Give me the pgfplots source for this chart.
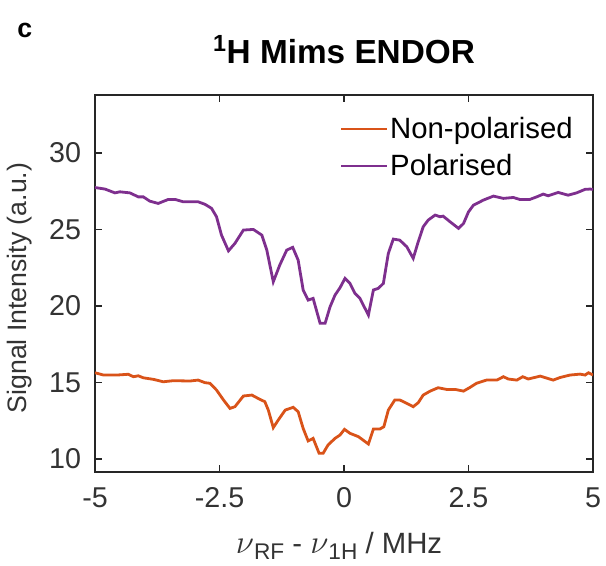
\documentclass[border=0pt]{standalone}
\usepackage{fontspec}
\setmainfont{Liberation Sans}
\usepackage{pgfplots}
\pgfplotsset{compat=1.18}
\definecolor{mlorange}{rgb}{0.85,0.325,0.098}
\definecolor{mlpurple}{rgb}{0.494,0.184,0.556}
\definecolor{axgray}{HTML}{262626}
\newcommand{\nusym}{{\fontsize{28}{30}\selectfont$\nu$}}
\newcommand{\sub}[1]{\raisebox{-5pt}{\fontsize{17}{19}\selectfont #1}}
\begin{document}
\begin{tikzpicture}
\begin{axis}[
  scale only axis,
  width=373.5pt, height=282.75pt,
  xmin=-5, xmax=5, ymin=9.15, ymax=33.8,
  xtick={-5,-2.5,0,2.5,5},
  xticklabels={-5,-2.5,0,2.5,5},
  ytick={10,15,20,25,30},
  /pgf/number format/assume math mode=true,
  tick align=inside,
  major tick length=5pt,
  axis line style={axgray, line width=1.4pt},
  every tick/.style={axgray, line width=1.2pt},
  tick label style={font=\fontsize{21.5}{24}\selectfont, text=black!80},
  xticklabel style={yshift=-8pt},
  yticklabel style={xshift=-7pt},
  title={\textbf{\textsuperscript{1}H Mims ENDOR}},
  title style={font=\fontsize{25}{28}\selectfont, at={(axis description cs:0.5,1)}, anchor=base, yshift=17.5pt},
  xlabel={\nusym\sub{RF}\ -\ \nusym\sub{1H}\ / MHz},
  xlabel style={font=\fontsize{22}{25}\selectfont, text=black!80, at={(axis description cs:0.49,0)}, anchor=base, yshift=-60.75pt},
  ylabel={Signal Intensity (a.u.)},
  ylabel style={font=\fontsize{20}{24}\selectfont, text=black!80, at={(axis description cs:-0.152,0.488)}, anchor=center, rotate=0},
  legend style={draw=none, fill=none, at={(axis description cs:0.968,0.952)}, anchor=north east, font=\fontsize{22}{25}\selectfont, row sep=6pt, inner sep=1pt},
  legend cell align=left,
  legend image code/.code={\draw[#1, line width=1.5pt] (0pt,0pt) -- (34pt,0pt);},
]
\addplot[mlorange, line width=2.1pt] coordinates {
(-5.0,15.64) (-4.83,15.49) (-4.56,15.49) (-4.33,15.54) (-4.23,15.38) (-4.13,15.44) (-4.03,15.31) (-3.83,15.21) (-3.63,15.05) (-3.43,15.12) (-3.09,15.1) (-2.93,15.16) (-2.79,14.99) (-2.69,14.95) (-2.56,14.51) (-2.42,13.86) (-2.29,13.31) (-2.19,13.42) (-2.02,14.12) (-1.85,14.18) (-1.69,13.9) (-1.59,13.75) (-1.52,13.2) (-1.42,12.05) (-1.32,12.55) (-1.18,13.2) (-1.02,13.38) (-0.92,13.09) (-0.82,12.0) (-0.72,11.18) (-0.62,11.35) (-0.50,10.37) (-0.42,10.37) (-0.32,10.92) (-0.18,11.35) (-0.08,11.57) (0.01,11.94) (0.12,11.68) (0.29,11.46) (0.49,10.98) (0.59,11.96) (0.72,11.96) (0.80,12.11) (0.89,13.2) (1.02,13.86) (1.12,13.86) (1.26,13.64) (1.39,13.42) (1.49,13.68) (1.59,14.18) (1.73,14.44) (1.89,14.66) (2.06,14.55) (2.23,14.55) (2.40,14.44) (2.53,14.68) (2.66,14.95) (2.86,15.16) (3.07,15.16) (3.20,15.38) (3.30,15.23) (3.47,15.16) (3.59,15.38) (3.70,15.23) (3.94,15.42) (4.20,15.16) (4.34,15.33) (4.54,15.49) (4.74,15.55) (4.84,15.49) (4.91,15.64) (5.0,15.49)
};
\addlegendentry{Non-polarised}
\addplot[mlpurple, line width=2.1pt] coordinates {
(-5.0,27.75) (-4.80,27.65) (-4.60,27.4) (-4.50,27.47) (-4.30,27.4) (-4.13,27.14) (-4.03,27.14) (-3.90,26.86) (-3.73,26.71) (-3.53,26.97) (-3.39,26.97) (-3.23,26.82) (-2.93,26.82) (-2.79,26.65) (-2.66,26.39) (-2.56,25.84) (-2.46,24.64) (-2.32,23.61) (-2.19,24.1) (-2.02,24.97) (-1.82,25.01) (-1.65,24.64) (-1.55,23.66) (-1.42,21.59) (-1.29,22.68) (-1.15,23.66) (-1.03,23.84) (-0.92,23.0) (-0.82,21.05) (-0.72,20.39) (-0.62,20.5) (-0.48,18.87) (-0.38,18.87) (-0.28,19.95) (-0.18,20.72) (-0.08,21.2) (0.02,21.81) (0.12,21.48) (0.22,20.83) (0.32,20.5) (0.49,19.41) (0.59,21.05) (0.69,21.16) (0.79,21.48) (0.89,23.44) (0.99,24.38) (1.12,24.31) (1.26,23.88) (1.39,23.12) (1.49,24.2) (1.59,25.18) (1.69,25.62) (1.83,25.95) (1.93,25.84) (1.99,25.88) (2.13,25.51) (2.30,25.08) (2.40,25.4) (2.50,26.16) (2.60,26.6) (2.80,26.93) (3.00,27.19) (3.20,27.04) (3.40,27.1) (3.53,26.97) (3.73,26.97) (3.87,27.14) (4.00,27.32) (4.10,27.21) (4.30,27.43) (4.50,27.25) (4.67,27.4) (4.84,27.63) (4.94,27.65) (5.0,27.63)
};
\addlegendentry{Polarised}
\end{axis}
\node[anchor=base west, font=\fontsize{20}{24}\selectfont\bfseries, inner sep=0pt] at ([shift={(-58.5pt,325.5pt)}]current axis.south west) {c};
\pgfresetboundingbox
\path (current axis.south west) ++(-71.25pt,-69.75pt) rectangle ++(454.5pt,423.75pt);
\end{tikzpicture}
\end{document}
